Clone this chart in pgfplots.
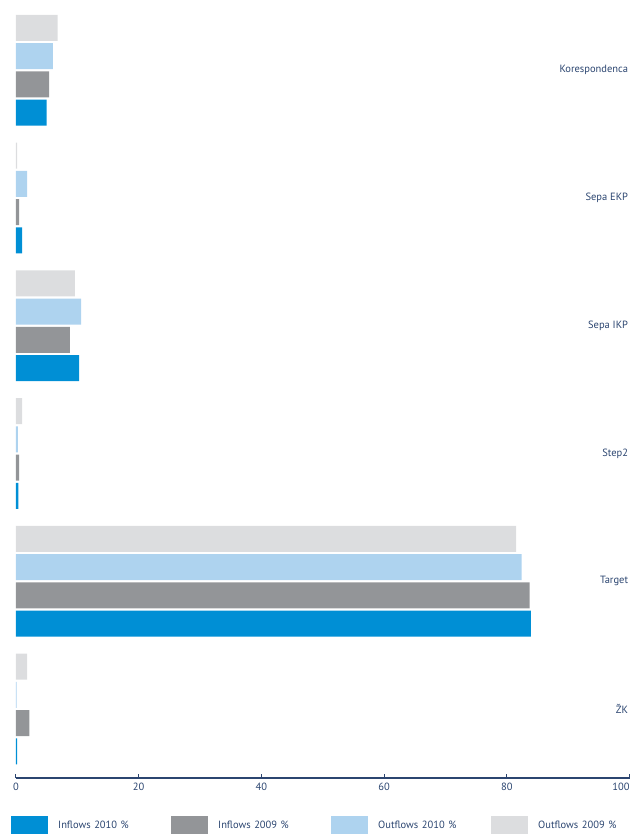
\documentclass[border=0pt]{standalone}
\usepackage{pgfplots}
\pgfplotsset{compat=1.18}
\usepackage{fontspec}
\setmainfont{PT Sans}

\definecolor{inA}{HTML}{008FD5}
\definecolor{inB}{HTML}{939598}
\definecolor{outA}{HTML}{AED3EF}
\definecolor{outB}{HTML}{DCDDDF}
\definecolor{navy}{HTML}{2B4570}

\begin{document}
\begin{tikzpicture}
\begin{axis}[
  scale only axis,
  width=613.6pt, height=778pt,
  xbar=2.3pt, bar width=26pt,
  xmin=0, xmax=100,
  ymin=-0.54, ymax=5.55,
  xtick={0,20,40,60,80,100},
  xticklabels={0,20,40,60,80,\llap{100}},
  ytick={0,1,2,3,4,5},
  yticklabels={ŽK,Target,Step2,Sepa IKP,Sepa EKP,Korespondenca},
  axis x line*=bottom,
  axis y line*=right,
  y axis line style={draw=none},
  ytick style={draw=none},
  yticklabel style={anchor=east, xshift=2pt, font=\fontsize{10.5}{12}\selectfont, text=navy},
  xticklabel style={font=\fontsize{10.5}{12}\selectfont, text=navy, yshift=-1pt},
  x axis line style={navy, line width=1.2pt, -},
  tick align=inside,
  xtick style={navy, line width=1pt},
  major tick length=4pt,
  legend columns=4,
  legend style={
    draw=none, fill=none,
    at={(rel axis cs:0,0)}, anchor=north west,
    xshift=-8pt, yshift=-36pt,
    column sep=0pt,
    font=\fontsize{10.5}{12}\selectfont,
    text=navy,
    nodes={inner xsep=0pt, inner ysep=0pt, text width=123pt, align=left},
  },
  legend image code/.code={\fill[#1] (0pt,-10pt) rectangle (37pt,9pt);},
  legend cell align=left,
]
% Inflows 2010
\addplot[draw=none, fill=inA] coordinates {
  (0.2,0) (83.9,1) (0.4,2) (10.3,3) (1.0,4) (5.0,5)};
% Inflows 2009
\addplot[draw=none, fill=inB] coordinates {
  (2.2,0) (83.7,1) (0.5,2) (8.8,3) (0.5,4) (5.4,5)};
% Outflows 2010
\addplot[draw=none, fill=outA] coordinates {
  (0.1,0) (82.4,1) (0.3,2) (10.6,3) (1.8,4) (6.0,5)};
% Outflows 2009
\addplot[draw=none, fill=outB] coordinates {
  (1.8,0) (81.5,1) (1.0,2) (9.6,3) (0.2,4) (6.8,5)};
\legend{\hspace*{10pt}Inflows 2010 \%,\hspace*{10pt}Inflows 2009 \%,\hspace*{10pt}Outflows 2010 \%,\hspace*{10pt}Outflows 2009 \%}
\end{axis}
\pgfresetboundingbox
\path[use as bounding box] (-16pt,-56pt) rectangle (618pt,778pt);
\end{tikzpicture}
\end{document}
